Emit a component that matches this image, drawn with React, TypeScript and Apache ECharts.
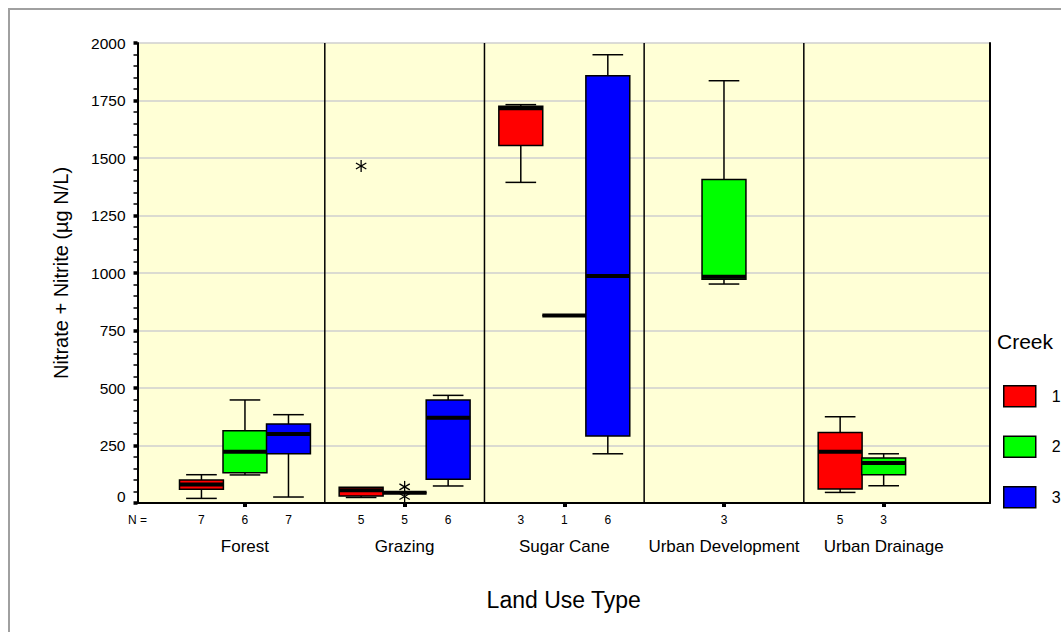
import React, { useEffect, useRef } from 'react';
import * as echarts from 'echarts';

// ---------- data ----------
const categories = ['Forest', 'Grazing', 'Sugar Cane', 'Urban Development', 'Urban Drainage'];
const creekNames = ['1', '2', '3'];
const creekColors = ['#FF0000', '#00FF00', '#0000FF'];

// [min, q1, median, q3, max] per land use type; null = no samples
const creek1Box = [[20, 60, 80, 100, 123], [24, 30, 55, 68, 68], [1394, 1554, 1716, 1725, 1732], null, [46, 61, 223, 306, 375]];
const creek2Box = [[122, 132, 223, 314, 448], [45, 45, 45, 45, 45], [815, 815, 815, 815, 815], [952, 973, 984, 1407, 1836], [75, 123, 174, 196, 214]];
const creek3Box = [[26, 214, 300, 343, 384], [74, 103, 371, 448, 468], [214, 291, 987, 1858, 1949], null, null];

const creek1N = [7, 5, 3, null, 5];
const creek2N = [6, 5, 1, 3, 3];
const creek3N = [7, 6, 6, null, null];

// [category index, value]
const creek1Outliers = [[1, 1465]];
const creek2Outliers = [[1, 70], [1, 28]];
const creek3Outliers: number[][] = [];

const yMin = 0;
const yMax = 2000;
const yInterval = 250;

const yTitle = 'Nitrate + Nitrite (µg N/L)';
const xTitle = 'Land Use Type';
const legendTitle = 'Creek';

// ---------- layout constants ----------
const X_MIN = -0.673;
const X_MAX = 4.666;
const CREEK_OFFSET = [-0.2725, 0, 0.2725];
const BOX_HALF = 0.1375;
const CAP_HALF = 0.096;
const FONT = 'Arial, "Liberation Sans", sans-serif';

const boxes = [creek1Box, creek2Box, creek3Box];
const counts = [creek1N, creek2N, creek3N];
const outliers = [creek1Outliers, creek2Outliers, creek3Outliers];

export default function App() {
  const ref = useRef<HTMLDivElement>(null);

  useEffect(() => {
    if (!ref.current) return;
    const chart = echarts.init(ref.current, undefined, { renderer: 'svg' });

    const nLabels: { v: number; t: string }[] = [{ v: X_MIN, t: 'N =' }];
    counts.forEach((arr, k) =>
      arr.forEach((n, i) => {
        if (n != null) nLabels.push({ v: i + CREEK_OFFSET[k], t: String(n) });
      })
    );

    const boxRender = (params: any, api: any) => {
      const x = api.value(0);
      const mn = api.value(1), q1 = api.value(2), md = api.value(3), q3 = api.value(4), mx = api.value(5);
      const pL = api.coord([x - BOX_HALF, q3]);
      const pR = api.coord([x + BOX_HALF, q1]);
      const cL = api.coord([x - CAP_HALF, mx])[0];
      const cR = api.coord([x + CAP_HALF, mx])[0];
      const cx = api.coord([x, 0])[0];
      const yMx = api.coord([x, mx])[1];
      const yMn = api.coord([x, mn])[1];
      const yQ1 = pR[1];
      const yQ3 = pL[1];
      const yMd = api.coord([x, md])[1];
      const lineStyle = { stroke: '#000', lineWidth: 1.5 };
      const children: any[] = [];
      if (mx > q3) {
        children.push({ type: 'line', shape: { x1: cx, y1: yMx, x2: cx, y2: yQ3 }, style: lineStyle });
        children.push({ type: 'line', shape: { x1: cL, y1: yMx, x2: cR, y2: yMx }, style: lineStyle });
      }
      if (mn < q1) {
        children.push({ type: 'line', shape: { x1: cx, y1: yMn, x2: cx, y2: yQ1 }, style: lineStyle });
        children.push({ type: 'line', shape: { x1: cL, y1: yMn, x2: cR, y2: yMn }, style: lineStyle });
      }
      children.push({
        type: 'rect',
        shape: { x: pL[0], y: yQ3, width: pR[0] - pL[0], height: yQ1 - yQ3 },
        style: { fill: api.visual('color'), stroke: '#000', lineWidth: 1.5 },
      });
      children.push({
        type: 'line',
        shape: { x1: pL[0], y1: yMd, x2: pR[0], y2: yMd },
        style: { stroke: '#000', lineWidth: 4 },
      });
      return { type: 'group', children };
    };

    const starRender = (params: any, api: any) => {
      const p = api.coord([api.value(0), api.value(1)]);
      const r = 6;
      const dx = r * 0.866;
      const dy = r * 0.5;
      const st = { stroke: '#000', lineWidth: 1.3 };
      return {
        type: 'group',
        children: [
          { type: 'line', shape: { x1: p[0], y1: p[1] - r, x2: p[0], y2: p[1] + r }, style: st },
          { type: 'line', shape: { x1: p[0] - dx, y1: p[1] - dy, x2: p[0] + dx, y2: p[1] + dy }, style: st },
          { type: 'line', shape: { x1: p[0] - dx, y1: p[1] + dy, x2: p[0] + dx, y2: p[1] - dy }, style: st },
        ],
      };
    };

    const sepRender = (params: any, api: any) => {
      const x = api.value(0);
      const top = api.coord([x, yMax]);
      const bot = api.coord([x, yMin]);
      return {
        type: 'line',
        shape: { x1: top[0], y1: top[1], x2: bot[0], y2: bot[1] },
        style: { stroke: '#000', lineWidth: 1.5 },
      };
    };

    const series: any[] = [];
    boxes.forEach((arr, k) => {
      const data: number[][] = [];
      arr.forEach((b, i) => {
        if (b) data.push([i + CREEK_OFFSET[k], ...b]);
      });
      series.push({
        type: 'custom',
        name: creekNames[k],
        renderItem: boxRender,
        itemStyle: { color: creekColors[k] },
        encode: { x: 0, y: [1, 2, 3, 4, 5] },
        data,
        z: 3,
      });
    });
    outliers.forEach((arr, k) => {
      if (!arr.length) return;
      series.push({
        type: 'custom',
        name: 'out' + k,
        renderItem: starRender,
        encode: { x: 0, y: 1 },
        data: arr.map(([i, v]) => [i + CREEK_OFFSET[k], v]),
        z: 4,
      });
    });
    series.push({
      type: 'custom',
      name: 'sep',
      renderItem: sepRender,
      encode: { x: 0 },
      data: categories.slice(1).map((_, i) => [i + 0.5]),
      z: 2,
    });

    chart.setOption({
      animation: false,
      textStyle: { fontFamily: FONT },
      title: {
        text: legendTitle,
        left: 997,
        top: 331,
        padding: 0,
        textStyle: { fontSize: 21, fontWeight: 'normal', color: '#000', fontFamily: FONT },
      },
      graphic: [
        {
          type: 'rect',
          shape: { x: 9, y: 9, width: 1200, height: 800 },
          style: { fill: 'none', stroke: '#a0a0a0', lineWidth: 2 },
          silent: true,
        },
      ],
      legend: {
        data: creekNames,
        orient: 'vertical',
        left: 1003,
        top: 385,
        padding: 0,
        icon: 'rect',
        itemWidth: 32,
        itemHeight: 21,
        itemGap: 28,
        itemStyle: { borderColor: '#000', borderWidth: 1.5 },
        textStyle: { fontSize: 16, color: '#000', fontFamily: FONT, padding: [0, 0, 0, 11] },
        selectedMode: false,
      },
      grid: {
        left: 137.5,
        right: 71,
        top: 43,
        bottom: 129,
        show: true,
        backgroundColor: '#FFFFD6',
        borderWidth: 0,
      },
      xAxis: [
        {
          type: 'value',
          min: X_MIN,
          max: X_MAX,
          position: 'bottom',
          axisLine: { show: true, onZero: false, lineStyle: { color: '#000', width: 2 } },
          axisTick: { show: true, customValues: categories.map((_, i) => i), length: 4, lineStyle: { color: '#000', width: 4 } },
          axisLabel: {
            customValues: categories.map((_, i) => i),
            formatter: (v: number) => categories[Math.round(v)] ?? '',
            fontSize: 17,
            color: '#000',
            margin: 35,
            fontFamily: FONT,
          },
          splitLine: { show: false },
          name: xTitle,
          nameLocation: 'middle',
          nameGap: 85,
          nameTextStyle: { fontSize: 23, color: '#000', fontFamily: FONT },
        },
        {
          type: 'value',
          min: X_MIN,
          max: X_MAX,
          position: 'bottom',
          axisLine: { show: false, onZero: false },
          axisTick: { show: false },
          axisLabel: {
            customValues: nLabels.map((d) => d.v),
            formatter: (v: number) => {
              const f = nLabels.find((d) => Math.abs(d.v - v) < 1e-6);
              return f ? f.t : '';
            },
            fontSize: 12,
            color: '#000',
            margin: 11,
            fontFamily: FONT,
          },
          splitLine: { show: false },
        },
      ],
      yAxis: [
        {
          type: 'value',
          min: yMin,
          max: yMax,
          interval: yInterval,
          position: 'left',
          axisLine: { show: true, onZero: false, lineStyle: { color: '#000', width: 2 } },
          axisTick: { show: true, length: 4, lineStyle: { color: '#000', width: 3.5 } },
          minorTick: { show: true, splitNumber: 5, length: 4, lineStyle: { color: '#000', width: 1.5 } },
          splitLine: { show: true, lineStyle: { color: '#cfcfcf', width: 1.5 } },
          axisLabel: {
            fontSize: 15.5,
            color: '#000',
            margin: 12,
            fontFamily: FONT,
            formatter: (v: number) => (v === 0 ? '{z|0}' : String(v)),
            rich: { z: { fontSize: 15.5, color: '#000', padding: [0, 0, 14, 0], fontFamily: FONT } },
          },
          name: yTitle,
          nameLocation: 'middle',
          nameGap: 67,
          nameTextStyle: { fontSize: 20, color: '#000', fontFamily: FONT },
        },
        {
          type: 'value',
          min: yMin,
          max: yMax,
          position: 'right',
          axisLine: { show: true, onZero: false, lineStyle: { color: '#000', width: 2 } },
          axisTick: { show: false },
          axisLabel: { show: false },
          splitLine: { show: false },
        },
      ],
      series,
    });

    return () => chart.dispose();
  }, []);

  return (
    <div
      ref={ref}
      style={{ position: 'fixed', left: 0, top: 0, width: 1061, height: 632, background: '#fff' }}
    />
  );
}
